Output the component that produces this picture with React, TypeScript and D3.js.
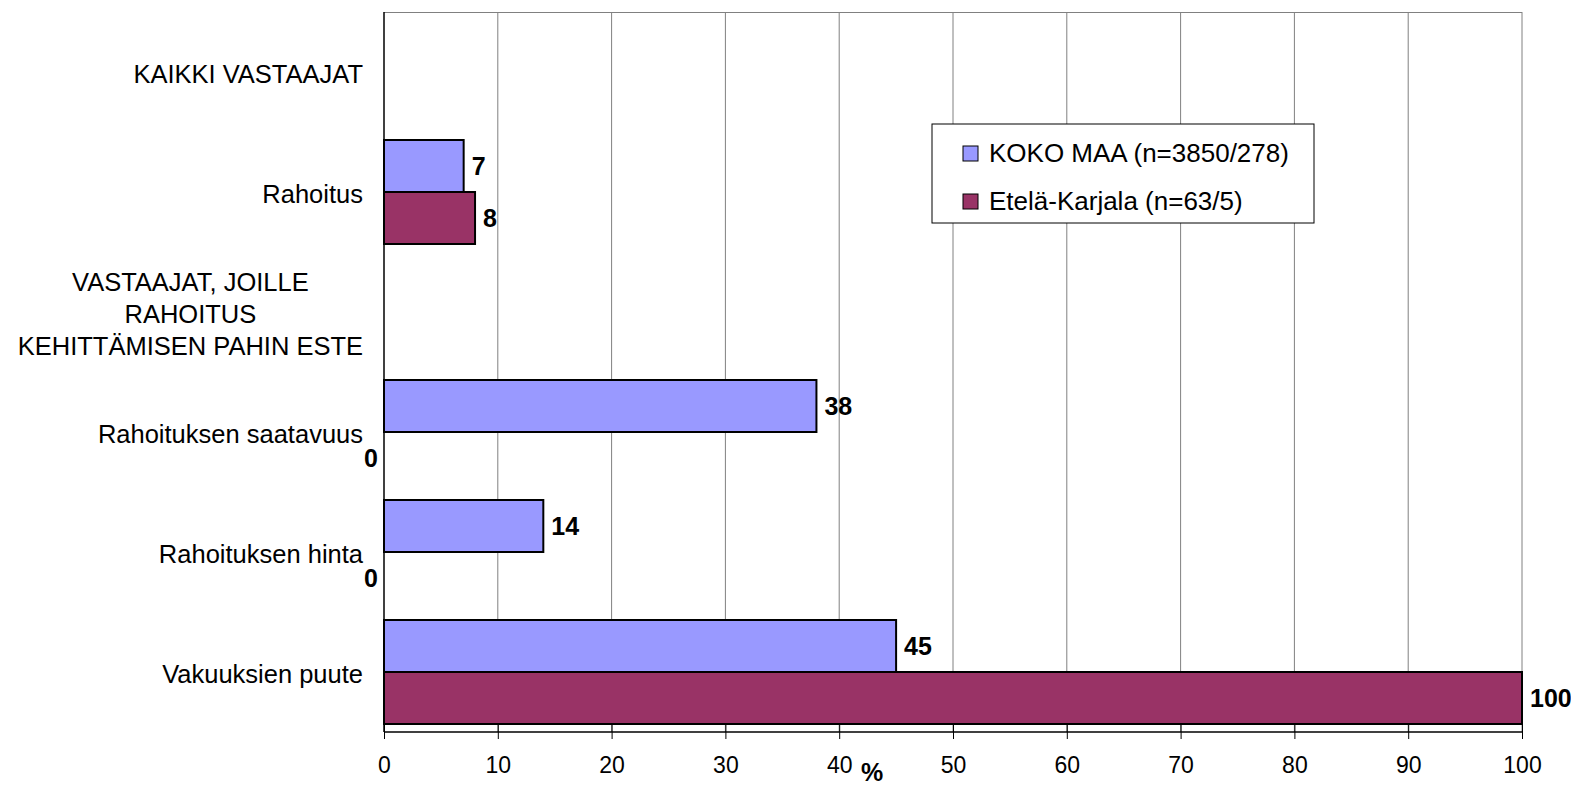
import React, { useEffect, useRef } from 'react';
import * as d3 from 'd3';

// categories top to bottom, each one line list
const categories: string[][] = [
  ['KAIKKI VASTAAJAT'],
  ['Rahoitus'],
  ['VASTAAJAT, JOILLE', 'RAHOITUS', 'KEHITTÄMISEN PAHIN ESTE'],
  ['Rahoituksen saatavuus'],
  ['Rahoituksen hinta'],
  ['Vakuuksien puute'],
];
const seriesNames = ['KOKO MAA (n=3850/278)', 'Etelä-Karjala (n=63/5)'];
const seriesColors = ['#9999FF', '#993366'];
// null = no bar / no label
const kokoMaa: (number | null)[] = [null, 7, null, 38, 14, 45];
const etelaKarjala: (number | null)[] = [null, 8, null, 0, 0, 100];
const xTicks = [0, 10, 20, 30, 40, 50, 60, 70, 80, 90, 100];

export default function App() {
  const svgRef = useRef<SVGSVGElement>(null);
  const W = 1571, H = 785;
  const L = 384, R = 1522, T = 12, B = 732;

  useEffect(() => {
    const svg = d3.select(svgRef.current);
    svg.selectAll('*').remove();
    const font = 'Liberation Sans, Arial, sans-serif';

    const x = d3.scaleLinear().domain([0, 100]).range([L, R]);
    const y = d3.scaleBand().domain(categories.map((_, i) => String(i))).range([T, B]).padding(0);
    const inner = d3.scaleBand().domain(['0', '1']).range([0, y.bandwidth()]).paddingOuter(8 / 52).paddingInner(0);

    // gridlines
    svg.append('g').selectAll('line').data(xTicks.slice(1)).join('line')
      .attr('x1', d => x(d)).attr('x2', d => x(d)).attr('y1', T).attr('y2', B)
      .attr('stroke', '#808080').attr('stroke-width', 1);
    svg.append('line').attr('x1', L).attr('x2', R).attr('y1', T + 0.5).attr('y2', T + 0.5)
      .attr('stroke', '#808080');

    // bars
    const series = [kokoMaa, etelaKarjala];
    series.forEach((vals, s) => {
      vals.forEach((v, i) => {
        if (v === null) return;
        const y0 = y(String(i))! + inner(String(s))!;
        const h = inner.bandwidth();
        if (v > 0) {
          svg.append('rect').attr('x', x(0)).attr('y', y0).attr('width', x(v) - x(0)).attr('height', h)
            .attr('fill', seriesColors[s]).attr('stroke', '#000').attr('stroke-width', 2);
        }
        const lx = v > 0 ? x(v) + 8 : x(0) - 6;
        svg.append('text').attr('x', lx).attr('y', y0 + h / 2).attr('dy', '0.35em')
          .attr('text-anchor', v > 0 ? 'start' : 'end')
          .attr('font-family', font).attr('font-size', 25).attr('font-weight', 'bold').attr('fill', '#000')
          .text(v);
      });
    });

    // axes
    svg.append('line').attr('x1', L).attr('x2', L).attr('y1', T).attr('y2', B).attr('stroke', '#000').attr('stroke-width', 1.5);
    svg.append('line').attr('x1', L).attr('x2', R).attr('y1', B).attr('y2', B).attr('stroke', '#000').attr('stroke-width', 1.5);
    const ax = svg.append('g').attr('transform', `translate(0,${B})`)
      .call(d3.axisBottom(x).tickValues(xTicks).tickSizeInner(7).tickSizeOuter(0).tickPadding(18));
    ax.select('.domain').remove();
    ax.selectAll('.tick line').attr('y1', -9).attr('y2', 7).attr('stroke', '#000');
    ax.selectAll('.tick text').attr('font-family', font).attr('font-size', 23).attr('fill', '#000');
    svg.append('text').attr('x', 872).attr('y', 781).attr('text-anchor', 'middle')
      .attr('font-family', font).attr('font-size', 25).attr('font-weight', 'bold').text('%');

    // category labels
    const catSize = 25.5;
    categories.forEach((lines, i) => {
      const cy = y(String(i))! + y.bandwidth() / 2 + 2;
      const lh = 32;
      const g = svg.append('text').attr('font-family', font).attr('font-size', catSize).attr('fill', '#000');
      if (lines.length === 1) {
        g.attr('text-anchor', 'end').attr('x', 363).attr('y', cy).attr('dy', '0.35em').text(lines[0]);
      } else {
        // block is right aligned, lines centered in it
        const tmp = svg.append('text').attr('font-family', font).attr('font-size', catSize);
        let maxW = 0;
        lines.forEach(l => { tmp.text(l); maxW = Math.max(maxW, (tmp.node() as SVGTextElement).getComputedTextLength()); });
        tmp.remove();
        const cx = 363 - maxW / 2;
        g.attr('text-anchor', 'middle');
        lines.forEach((l, k) => {
          g.append('tspan').attr('x', cx).attr('y', cy + (k - (lines.length - 1) / 2) * lh).attr('dy', '0.35em').text(l);
        });
      }
    });

    // legend
    const lg = svg.append('g').attr('transform', 'translate(932,124)');
    lg.append('rect').attr('width', 382).attr('height', 99).attr('fill', '#fff').attr('stroke', '#000').attr('stroke-width', 1);
    seriesNames.forEach((n, i) => {
      const cy = 28 + i * 48;
      lg.append('rect').attr('x', 31).attr('y', cy - 6).attr('width', 15).attr('height', 15)
        .attr('fill', seriesColors[i]).attr('stroke', '#000').attr('stroke-width', 1);
      lg.append('text').attr('x', 57).attr('y', cy + 1).attr('dy', '0.35em')
        .attr('font-family', font).attr('font-size', 26).attr('fill', '#000').text(n);
    });
  }, []);

  return (
    <svg ref={svgRef} width={W} height={H} viewBox={`0 0 ${W} ${H}`}
      style={{ position: 'absolute', left: 0, top: 0, background: '#fff' }} />
  );
}
